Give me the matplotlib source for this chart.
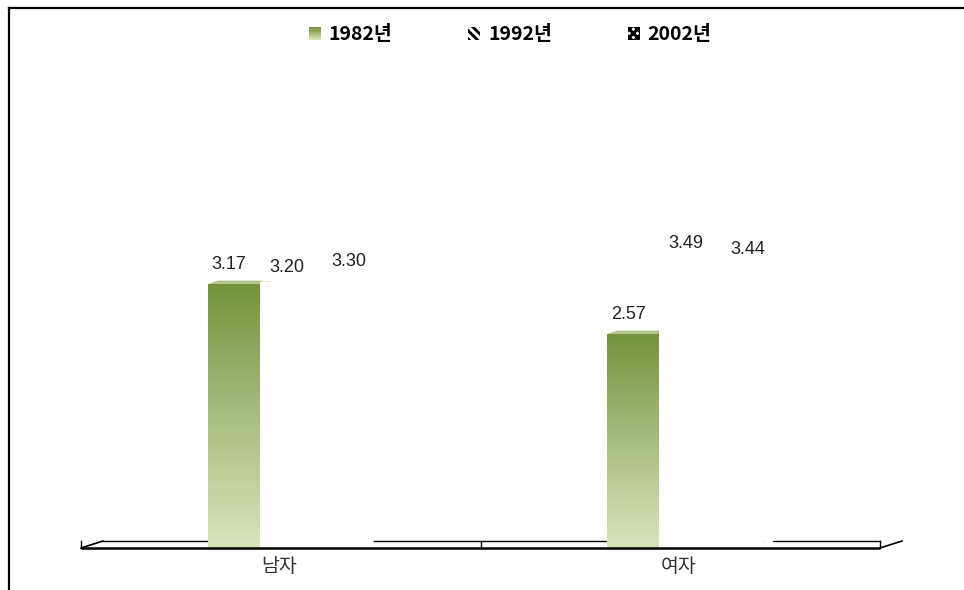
import numpy as np
import matplotlib
matplotlib.use('Agg')
import matplotlib.pyplot as plt
from matplotlib import font_manager
from matplotlib.patches import Rectangle, Polygon
from matplotlib.legend_handler import HandlerBase
from matplotlib.colors import LinearSegmentedColormap
from matplotlib.lines import Line2D

plt.rcParams['font.family'] = ['Noto Sans CJK KR', 'DejaVu Sans']
plt.rcParams['hatch.linewidth'] = 2.2

# data
categories = ['남자', '여자']
series = ['1982년', '1992년', '2002년']
v1982 = [3.17, 2.57]
v1992 = [3.20, 3.49]
v2002 = [3.30, 3.44]
values = [v1982, v1992, v2002]

# narrow font for the value labels if we have it
try:
    font_manager.findfont('Liberation Sans Narrow', fallback_to_default=False)
    num_family, num_size = 'Liberation Sans Narrow', 14
except ValueError:
    num_family, num_size = 'Liberation Sans', 13

W, H = 964, 590
fig = plt.figure(figsize=(W / 100, H / 100), dpi=100)
# plot area: x 81..880 px, baseline at y=548 px, value 4 at y=215 px
ax = fig.add_axes([81 / W, (H - 548) / H, (880 - 81) / W, (548 - 215) / H])
XLIM, YLIM = (-0.5, 1.5), (0, 4)
sx = (XLIM[1] - XLIM[0]) / (880 - 81)   # data units per pixel
sy = (YLIM[1] - YLIM[0]) / (548 - 215)

grad_cmap = LinearSegmentedColormap.from_list('olive', ['#D8E4BC', '#A9BD80', '#76923C'])

bar_w = 0.13
offsets = [-0.1175, 0.0125, 0.1425]
depth_dx, depth_dy = 10 * sx, 3.5 * sy
x = np.arange(len(categories))

for j, vals in enumerate(values):
    for i, v in enumerate(vals):
        x0 = x[i] + offsets[j] - bar_w / 2
        x1 = x0 + bar_w
        if j == 0:
            grad = np.linspace(0, 1, 256).reshape(-1, 1)
            ax.imshow(grad, extent=[x0, x1, 0, v], origin='lower', aspect='auto',
                      cmap=grad_cmap, zorder=3 + j, interpolation='bilinear')
            top_c, side_c = '#B4C58F', '#9AB06A'
        else:
            ax.add_patch(Rectangle((x0, 0), bar_w, v, facecolor='white',
                                   edgecolor='none', zorder=3 + j))
            top_c, side_c = 'white', 'white'
        ax.add_patch(Polygon([(x0, v), (x1, v), (x1 + depth_dx, v + depth_dy),
                              (x0 + depth_dx, v + depth_dy)],
                             facecolor=top_c, edgecolor='none', zorder=2.5 + j))
        ax.add_patch(Polygon([(x1, 0), (x1 + depth_dx, depth_dy),
                              (x1 + depth_dx, v + depth_dy), (x1, v)],
                             facecolor=side_c, edgecolor='none', zorder=2.5 + j))

# value labels (Excel 3D places them a bit off the bar centres)
lab_dx = [-5, 1, 11]
lab_dy = [20, 14, 12]
for j, vals in enumerate(values):
    for i, v in enumerate(vals):
        ax.annotate(f'{v:.2f}', xy=(x[i] + offsets[j], v), xytext=(lab_dx[j], lab_dy[j]),
                    textcoords='offset pixels', ha='center', va='center',
                    fontsize=num_size, family=num_family, color='#222222',
                    annotation_clip=False, zorder=10)

# floor slab
fh, fd = 7 * sy, 22 * sx
floor = dict(color='black', clip_on=False)
ax.plot([XLIM[0] + fd, XLIM[1]], [fh, fh], lw=1.0, zorder=1, **floor)
ax.plot(XLIM, [0, 0], lw=1.8, zorder=8, solid_capstyle='butt', **floor)
for xv in [XLIM[0], 0.5, XLIM[1]]:
    ax.plot([xv, xv], [0, fh], lw=1.0, zorder=1, **floor)
ax.plot([XLIM[0], XLIM[0] + fd], [0, fh], lw=1.2, zorder=1, **floor)
ax.plot([XLIM[1], XLIM[1] + fd], [0, fh], lw=1.2, zorder=1, **floor)

# category labels
for i, c in enumerate(categories):
    ax.annotate(c, xy=(x[i], 0), xytext=(-2, -18), textcoords='offset pixels',
                ha='center', va='center', fontsize=14, color='#333333',
                annotation_clip=False)

ax.set_xlim(*XLIM)
ax.set_ylim(*YLIM)
ax.axis('off')


class GradientHandler(HandlerBase):
    def create_artists(self, legend, orig_handle, xdescent, ydescent, width,
                       height, fontsize, trans):
        n = 12
        arts = []
        for k in range(n):
            arts.append(Rectangle((-xdescent, -ydescent + height * k / n), width,
                                  height / n * 1.05, facecolor=grad_cmap(k / (n - 1)),
                                  edgecolor='none', transform=trans))
        return arts


h1982 = Rectangle((0, 0), 1, 1, facecolor='#A9BD80')
h1992 = Rectangle((0, 0), 1, 1, facecolor='black', edgecolor='white',
                  hatch='\\\\\\\\', lw=0)
h2002 = Rectangle((0, 0), 1, 1, facecolor='white', edgecolor='black',
                  hatch='xxxx', lw=0)
fig.legend([h1982, h1992, h2002], series, loc='center',
           bbox_to_anchor=(510 / W, 1 - 35 / H), ncol=3, frameon=False,
           handler_map={h1982: GradientHandler()},
           prop={'size': 14, 'weight': 'bold'},
           handlelength=0.62, handleheight=0.62, handletextpad=0.4,
           columnspacing=3.9)

# outer frame (top and left edges only)
fig.add_artist(Line2D([8.5 / W, 1], [1 - 7.5 / H, 1 - 7.5 / H],
                      transform=fig.transFigure, color='black', lw=1.6))
fig.add_artist(Line2D([8.5 / W, 8.5 / W], [0, 1 - 7.5 / H],
                      transform=fig.transFigure, color='black', lw=1.6))

fig.savefig('out.png', dpi=100)
